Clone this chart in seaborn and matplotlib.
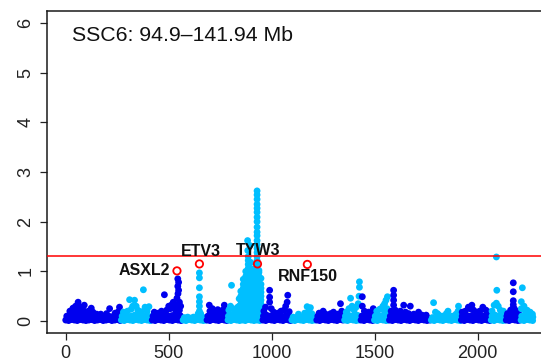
import matplotlib
matplotlib.use("Agg")
import matplotlib.pyplot as plt
import seaborn as sns
import pandas as pd
import numpy as np

# ---------------- data ----------------
title_text = "SSC6: 94.9\u2013141.94 Mb"
threshold = 1.3
x_ticks = [0, 500, 1000, 1500, 2000]
y_ticks = [0, 1, 2, 3, 4, 5, 6]

w01 = [(0,.02),(14,.01),(28,.03),(42,.02),(56,.01),(70,.03),(84,.02),(98,.01),(112,.02),(126,.03),
       (140,.01),(154,.02),(168,.03),(182,.01),(196,.02),(210,.03),(224,.01),(238,.02),(252,.03),(264,.01),
       (5,.1),(18,.12),(30,.1),(44,.11),(58,.1),(72,.12),(86,.09),(100,.1),(115,.1),(128,.11),(142,.09),
       (158,.1),(172,.08),(188,.09),(204,.1),(218,.09),(232,.08),(248,.1),(262,.11),
       (20,.2),(35,.26),(48,.3),(54,.22),(60,.38),(66,.29),(75,.2),(90,.32),(95,.18),(110,.2),(124,.26),
       (132,.18),(150,.14),(170,.14),(213,.25),(198,.15),(240,.16),(261,.28),(256,.19),(40,.18),(84,.22)]
w02 = [(270,.02),(284,.01),(298,.03),(312,.02),(326,.01),(340,.03),(354,.02),(368,.01),(382,.03),(396,.02),(410,.01),
       (274,.1),(290,.11),(305,.09),(320,.1),(335,.12),(350,.1),(365,.09),(380,.11),(395,.1),(408,.09),
       (280,.18),(300,.2),(310,.43),(318,.24),(334,.42),(342,.3),(350,.22),(365,.19),(377,.63),(385,.28),
       (395,.2),(404,.29),(325,.3)]
w03 = [(420,.02),(434,.01),(448,.03),(462,.02),(476,.01),(490,.03),(504,.02),(518,.01),(532,.03),(546,.02),(560,.01),
       (424,.1),(440,.09),(455,.11),(470,.1),(485,.12),(500,.1),(515,.11),(528,.12),(542,.1),(556,.11),
       (430,.18),(450,.16),(465,.2),(479,.53),(490,.22),(500,.3),(508,.25),(515,.33),(522,.38),(528,.28),
       (535,.2),(540,.46),(545,.55),(548,.62),(544,.7),(548,.78),(544,.85),(552,.38),(558,.3),(552,.22),(538,.32)]
w04 = [(570,.02),(584,.01),(598,.03),(612,.02),(626,.01),(640,.03),(654,.02),(668,.01),(680,.02),
       (576,.07),(592,.08),(606,.06),(620,.08),(634,.07),(646,.1),(660,.08),(674,.07),
       (649,.2),(649,.3),(649,.39),(649,.49),(649,.67),(649,.87),(649,.97),(655,.15),(643,.15)]
w05 = [(686,.02),(700,.01),(714,.03),(728,.02),(742,.01),(756,.03),(770,.02),(782,.01),
       (690,.1),(705,.12),(720,.1),(735,.11),(750,.09),(765,.1),(778,.12),
       (697,.32),(700,.2),(712,.25),(722,.18),(738,.23),(750,.17),(762,.22),(770,.32),(776,.2)]
w06 = [(788,.02),(802,.01),(816,.03),(830,.02),(844,.01),(858,.02),(872,.01),(886,.03),(900,.02),(914,.01),
       (928,.02),(942,.01),(950,.03),
       (790,.1),(805,.12),(820,.1),(835,.15),(792,.22),(800,.3),(805,.72),(812,.25),(822,.2),(835,.28),(842,.45),
       (842,.3),(842,.15),
       (850,.1),(850,.18),(850,.26),(850,.34),(850,.42),(850,.5),(850,.6),
       (862,.1),(862,.18),(862,.26),(862,.34),(862,.42),(862,.5),(862,.58),(862,.66),(862,.74),(862,.84),
       (874,.1),(874,.18),(874,.26),(874,.34),(874,.42),(874,.5),(874,.58),(874,.66),(874,.74),(874,.82),
       (874,.9),(874,1.0),
       (886,.1),(886,.18),(886,.26),(886,.34),(886,.42),(886,.5),(886,.58),(886,.66),(886,.74),(886,.82),
       (886,.9),(886,.98),(886,1.06),(886,1.14),(886,1.22),(886,1.3),(884,1.42),(883,1.62),
       (898,.1),(898,.18),(898,.26),(898,.34),(898,.42),(898,.5),(898,.58),(898,.66),(898,.74),(898,.82),
       (898,.9),(898,.98),(898,1.06),(898,1.18),(894,1.52),
       (910,.1),(910,.18),(910,.26),(910,.34),(910,.42),(910,.5),(910,.58),(910,.66),(910,.74),(910,.82),
       (910,.9),(910,.98),(910,1.04),
       (920,.1),(920,.18),(920,.26),(920,.34),(920,.42),(920,.5),(920,.58),(920,.66),(920,.74),(920,.82),
       (920,.9),(920,.98),(920,1.06),
       (929,1.14),(929,1.22),(929,1.3),(929,1.38),(929,1.46),(929,1.54),(929,1.62),(929,1.72),(929,1.79),
       (929,1.89),(929,2.0),(929,2.09),(929,2.19),(929,2.27),(929,2.35),(929,2.45),(929,2.54),(929,2.62),
       (938,.1),(938,.18),(938,.26),(938,.34),(938,.42),(938,.5),(938,.58),(938,.66),(938,.74),(938,.82),
       (938,.9),(938,.98),(938,1.02),
       (948,.1),(948,.18),(948,.26),(948,.34),(948,.42),(948,.5),(948,.58),(948,.66),(948,.74),(948,.86)]
w07 = [(957,.02),(971,.01),(985,.03),(999,.02),(1013,.01),(1027,.03),(1041,.02),(1055,.01),(1069,.03),(1083,.02),(1092,.01),
       (960,.1),(975,.12),(990,.1),(1005,.11),(1020,.09),(1035,.1),(1050,.08),(1065,.1),(1080,.11),
       (962,.2),(970,.28),(990,.38),(990,.48),(990,.62),(998,.25),(1010,.18),(1030,.16),(1045,.2),(1060,.22),
       (1075,.38),(1078,.52),(1068,.3),(1085,.19)]
w08 = [(1098,.02),(1112,.01),(1126,.03),(1140,.02),(1154,.01),(1168,.03),(1182,.02),(1196,.01),(1210,.02),
       (1104,.08),(1120,.07),(1135,.09),(1150,.08),(1165,.1),(1180,.09),(1195,.08),(1208,.07),
       (1160,.16),(1172,.29),(1180,.2),(1188,.27),(1195,.15),(1130,.14)]
w09 = [(1219,.02),(1233,.01),(1247,.03),(1261,.02),(1275,.01),(1289,.03),(1303,.02),(1317,.01),(1331,.03),(1345,.02),
       (1224,.1),(1240,.11),(1255,.09),(1270,.1),(1285,.12),(1300,.1),(1315,.09),(1330,.11),(1342,.1),
       (1230,.16),(1250,.2),(1262,.14),(1286,.15),(1300,.18),(1320,.14),(1334,.35),(1340,.2)]
w10 = [(1354,.02),(1368,.01),(1382,.03),(1396,.02),(1410,.01),(1424,.02),
       (1358,.1),(1372,.12),(1386,.1),(1400,.11),(1414,.12),(1426,.1),
       (1362,.18),(1375,.25),(1383,.46),(1390,.3),(1400,.22),(1410,.28),(1420,.35),(1424,.5),(1426,.68),(1426,.79)]
w11 = [(1434,.02),(1448,.01),(1462,.03),(1476,.02),(1490,.01),
       (1438,.1),(1452,.12),(1466,.1),(1480,.09),
       (1440,.49),(1440,.3),(1450,.2),(1470,.18),(1485,.15),(1493,.25)]
w12 = [(1499,.02),(1513,.01),(1527,.03),(1541,.02),(1555,.01),(1565,.02),
       (1503,.1),(1518,.12),(1533,.1),(1548,.14),(1562,.12),
       (1510,.2),(1525,.24),(1540,.3),(1548,.35),(1555,.42),(1562,.49),(1560,.25),(1545,.22)]
w13 = [(1572,.02),(1586,.01),(1600,.03),(1614,.02),(1628,.01),(1642,.03),(1656,.02),(1670,.01),(1684,.03),
       (1698,.02),(1712,.01),(1726,.03),(1740,.02),(1754,.01),(1768,.02),
       (1576,.1),(1590,.12),(1605,.1),(1620,.11),(1635,.12),(1650,.1),(1665,.09),(1680,.1),(1695,.08),
       (1710,.09),(1725,.07),(1740,.08),(1755,.07),
       (1580,.2),(1592,.62),(1592,.52),(1592,.42),(1592,.32),(1600,.22),(1612,.18),(1625,.2),(1641,.32),
       (1650,.18),(1673,.3),(1665,.15),(1690,.14),(1713,.18),(1730,.12),(1750,.12)]
w14 = [(1775,.02),(1789,.01),(1803,.03),(1817,.02),(1831,.01),(1845,.03),(1859,.02),(1873,.01),(1887,.03),
       (1901,.02),(1914,.01),
       (1780,.07),(1800,.06),(1815,.08),(1840,.06),(1860,.07),(1885,.08),(1905,.07),
       (1786,.37),(1795,.18),(1805,.15),(1812,.12),(1830,.1),(1848,.15),(1856,.2),(1875,.1),(1895,.14),
       (1905,.2),(1907,.3),(1912,.12)]
w15 = [(1921,.02),(1935,.01),(1949,.03),(1963,.02),(1977,.01),(1991,.03),(2005,.02),(2019,.01),(2033,.03),
       (2047,.02),(2059,.01),
       (1925,.1),(1940,.12),(1955,.1),(1970,.11),(1985,.09),(2000,.1),(2015,.12),(2030,.1),(2045,.11),(2056,.1),
       (1925,.18),(1940,.2),(1955,.28),(1963,.25),(1972,.32),(1980,.22),(1995,.18),(2010,.2),(2025,.28),
       (2040,.22),(2055,.18)]
w16 = [(2066,.02),(2080,.01),(2094,.03),(2108,.02),(2122,.01),(2132,.02),
       (2070,.1),(2085,.12),(2100,.1),(2115,.11),(2128,.1),
       (2070,.2),(2080,.32),(2091,.36),(2093,.62),(2091,1.29),(2100,.3),(2110,.22),(2125,.2)]
w17 = [(2139,.02),(2153,.01),(2167,.03),(2181,.02),(2195,.01),(2205,.02),
       (2142,.1),(2156,.12),(2170,.1),(2184,.11),(2198,.1),
       (2173,.77),(2173,.59),(2173,.41),(2173,.33),(2170,.25),(2178,.25),(2173,.18),(2165,.18),(2182,.18),
       (2145,.15),(2160,.22),(2188,.2),(2200,.14)]
w18 = [(2211,.02),(2225,.01),(2239,.03),(2253,.02),(2267,.01),
       (2214,.1),(2228,.12),(2242,.1),(2256,.11),(2268,.08),
       (2212,.39),(2217,.67),(2212,.25),(2225,.3),(2232,.2),(2240,.22),(2255,.18),(2266,.14)]

windows = [w01, w02, w03, w04, w05, w06, w07, w08, w09, w10, w11, w12,
           w13, w14, w15, w16, w17, w18]

# highlighted candidate genes
gene_names = ["ASXL2", "ETV3", "TYW3", "RNF150"]
gene_pos = [540, 649, 931, 1173]
gene_logp = [1.01, 1.15, 1.15, 1.14]
label_x = [505, 655, 933, 1175]
label_y = [1.02, 1.41, 1.42, 0.89]
label_ha = ["right", "center", "center", "center"]

dark_col = "#0000EE"
light_col = "#00BFFF"

# ---------------- build table ----------------
rows = []
for i, w in enumerate(windows):
    for (x, y) in w:
        rows.append({"pos": x, "logp": y, "block": "dark" if i % 2 == 0 else "light"})
df = pd.DataFrame(rows)

sns.set_theme(style="ticks")
plt.rcParams["font.family"] = ["Liberation Sans", "DejaVu Sans"]

fig = plt.figure(figsize=(5.41, 3.64), dpi=100)
left = 47 / 541
bottom = 1 - 333 / 364
width = (552 - 47) / 541
height = (333 - 11) / 364
ax = fig.add_axes([left, bottom, width, height])

sns.scatterplot(data=df, x="pos", y="logp", hue="block",
                palette={"dark": dark_col, "light": light_col},
                s=24, linewidth=0, edgecolor="none", legend=False, ax=ax, zorder=2)

ax.axhline(threshold, color="red", lw=1.1, zorder=3)
ax.scatter(gene_pos, gene_logp, s=28, facecolors="none", edgecolors="red", linewidths=1.3, zorder=4)
for n, x, y, ha in zip(gene_names, label_x, label_y, label_ha):
    ax.text(x, y, n, ha=ha, va="center", fontsize=11.5, fontweight="bold", color="#111111", zorder=5)

ax.text(0.05, 0.925, title_text, transform=ax.transAxes, fontsize=15.3, ha="left", va="center", color="#111111")

ax.set_xlim(-91, 2361)
ax.set_ylim(-0.24, 6.24)
ax.set_xticks(x_ticks)
ax.set_yticks(y_ticks)
ax.set_xticklabels([str(t) for t in x_ticks], fontsize=13)
ax.set_yticklabels([str(t) for t in y_ticks], fontsize=13, rotation=90, va="center")
ax.tick_params(direction="out", length=5, width=0.9, colors="#222222", pad=4)
ax.set_xlabel("")
ax.set_ylabel("")
for sp in ax.spines.values():
    sp.set_visible(True)
    sp.set_linewidth(1.1)
    sp.set_color("#1a1a1a")

fig.savefig("out.png", dpi=100)
